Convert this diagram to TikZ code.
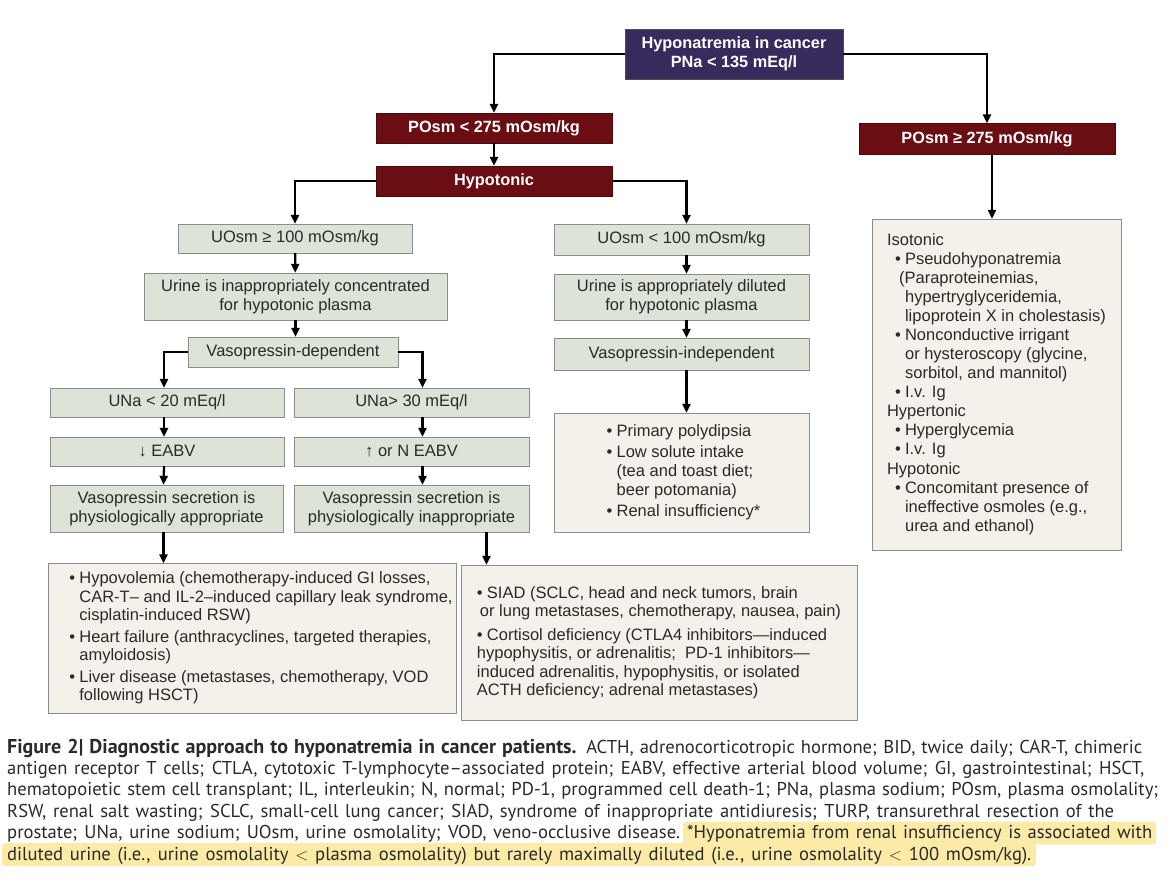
\documentclass[tikz,border=0pt]{standalone}
\usepackage{fontspec}
\usepackage{graphicx}
\setmainfont{Liberation Sans}
\newfontfamily\capfont{PT Sans}
\usetikzlibrary{arrows.meta}

\definecolor{hnapurple}{HTML}{372A5C}
\definecolor{posmred}{HTML}{6B0E14}
\definecolor{stepgreen}{HTML}{DEE3D8}
\definecolor{listbeige}{HTML}{F4F1EA}
\definecolor{boxline}{HTML}{8C8C8C}
\definecolor{hilite}{HTML}{FCEBA6}
\definecolor{txtgray}{HTML}{2A2A2A}

\newcommand{\bul}{\makebox[10pt][l]{\textbullet}}
\newcommand{\hng}{\hspace*{10pt}}
% stretch or squeeze one caption line to a given width
\newsavebox\caplinebox
\newcommand{\fitline}[2]{\sbox\caplinebox{#2}%
  \ifdim\wd\caplinebox>#1\relax\resizebox{#1}{\height}{\usebox\caplinebox}%
  \else\makebox[#1][s]{#2}\fi}

\tikzset{
  hnabox/.style={draw=black!70, fill=hnapurple, text=white, align=center, inner sep=0pt,
    font=\fontsize{16.3}{18.5}\selectfont\bfseries},
  posmbox/.style={draw=posmred!70!black, fill=posmred, text=white, align=center, inner sep=0pt,
    font=\fontsize{16.3}{18.5}\selectfont\bfseries},
  stepbox/.style={draw=boxline, fill=stepgreen, text=txtgray, align=center, inner sep=0pt,
    font=\fontsize{16.5}{19}\selectfont},
  listbox/.style={draw=boxline, fill=listbeige, text=txtgray, align=left, inner sep=0pt,
    font=\fontsize{16.5}{19}\selectfont},
  arr/.style={line width=2.3pt, -{Triangle[length=9pt,width=8pt]}},
  capline/.style={anchor=base west, inner sep=0pt, font=\capfont\fontsize{18.6}{21}\selectfont, text=txtgray},
  hiline/.style={capline, fill=hilite, rounded corners=3pt, inner xsep=4pt, text height=15pt, text depth=4pt, inner ysep=2pt}
}

\begin{document}
\begin{tikzpicture}[x=1pt,y=-1pt]
\useasboundingbox (0,0) rectangle (1173,879);

%top of the tree
\node[hnabox, minimum width=218pt, minimum height=50pt] (hna) at (734,54) {Hyponatremia in cancer\\PNa < 135 mEq/l};
\node[posmbox, minimum width=236pt, minimum height=30pt] (plo) at (494,128) {POsm < 275 mOsm/kg};
\node[posmbox, minimum width=256pt, minimum height=31pt] (phi) at (987,139) {POsm ≥ 275 mOsm/kg};
\node[posmbox, minimum width=236pt, minimum height=30pt] (hypo) at (494,181) {Hypotonic};
\draw[arr] (hna.west) -| (plo.north);
\draw[arr] (hna.east) -| (phi.north);
\draw[arr] (plo) -- (hypo);

%left branch, vasopressin-dependent
\node[stepbox, minimum width=234pt, minimum height=29pt] (uge) at (295,238.5) {UOsm ≥ 100 mOsm/kg};
\node[stepbox, minimum width=303pt, minimum height=47pt] (uic) at (295.5,296.5) {Urine is inappropriately concentrated\\for hypotonic plasma};
\node[stepbox, minimum width=210pt, minimum height=30pt] (vdep) at (293,352) {Vasopressin-dependent};
\node[stepbox, minimum width=234pt, minimum height=29pt] (una1) at (167,402.5) {UNa < 20 mEq/l};
\node[stepbox, minimum width=235pt, minimum height=29pt] (una2) at (411.5,402.5) {UNa> 30 mEq/l};
\node[stepbox, minimum width=234pt, minimum height=29pt] (eabv1) at (167,451.5) {↓ EABV};
\node[stepbox, minimum width=235pt, minimum height=29pt] (eabv2) at (411.5,451.5) {↑ or N EABV};
\node[stepbox, minimum width=233pt, minimum height=47pt] (sec1) at (166.5,508.5) {Vasopressin secretion is\\physiologically appropriate};
\node[stepbox, minimum width=235pt, minimum height=47pt] (sec2) at (411.5,508.5) {Vasopressin secretion is\\physiologically inappropriate};
\draw[arr] (hypo.west) -| (uge.north);
\draw[arr] (uge) -- (uic);
\draw[arr] (uic.south) -- (uic.south |- vdep.north);
\draw[arr] (vdep.west) -| ([xshift=-3pt]una1.north);
\draw[arr] (vdep.east) -| ([xshift=11pt]una2.north);
\draw[arr] ([xshift=-3pt]una1.south) -- ([xshift=-3pt]eabv1.north);
\draw[arr] ([xshift=11pt]una2.south) -- ([xshift=11pt]eabv2.north);
\draw[arr] ([xshift=-3pt]eabv1.south) -- ([xshift=-3pt]sec1.north);
\draw[arr] ([xshift=11pt]eabv2.south) -- ([xshift=11pt]sec2.north);

%causes
\node[listbox, minimum width=408pt, minimum height=150pt, font=\fontsize{16.5}{18.5}\selectfont] (causes1) at (252,638.5) {%
\begin{tabular}{@{\hspace*{18pt}}l@{}}
\bul Hypovolemia (chemotherapy-induced GI losses,\\
\hng CAR-T– and IL-2–induced capillary leak syndrome,\\
\hng cisplatin-induced RSW)\\[3pt]
\bul Heart failure (anthracyclines, targeted therapies,\\
\hng amyloidosis)\\[3pt]
\bul Liver disease (metastases, chemotherapy, VOD\\
\hng following HSCT)
\end{tabular}};
\node[listbox, minimum width=396pt, minimum height=155pt, font=\fontsize{16.5}{18.5}\selectfont] (causes2) at (659,642.5) {%
\bul SIAD (SCLC, head and neck tumors, brain\\
\hspace*{3pt}or lung metastases, chemotherapy, nausea, pain)\\[5pt]
\bul Cortisol deficiency (CTLA4 inhibitors—induced\\
hypophysitis, or adrenalitis;\ \ PD-1 inhibitors—\\
induced adrenalitis, hypophysitis, or isolated\\
ACTH deficiency; adrenal metastases)};
\draw[arr] ([xshift=-3pt]sec1.south) -- ([xshift=-3pt]sec1.south |- causes1.north);
\draw[arr] ([xshift=75pt]sec2.south) -- ([xshift=75pt]sec2.south |- causes2.north);

%middle branch, vasopressin-independent
\node[stepbox, minimum width=255pt, minimum height=31pt] (ult) at (681.5,239.5) {UOsm < 100 mOsm/kg};
\node[stepbox, minimum width=255pt, minimum height=46pt] (uad) at (681.5,297) {Urine is appropriately diluted\\for hypotonic plasma};
\node[stepbox, minimum width=255pt, minimum height=32pt] (vind) at (681.5,354) {Vasopressin-independent};
\node[listbox, minimum width=255pt, minimum height=119pt] (mlist) at (681.5,472.5) {%
\begin{tabular}{@{\hspace*{4pt}}l@{}}
\bul Primary polydipsia\\[2pt]
\bul Low solute intake\\
\hng(tea and toast diet;\\
\hng beer potomania)\\[2pt]
\bul Renal insufficiency*
\end{tabular}};
\draw[arr] (hypo.east) -| ([xshift=5pt]ult.north);
\draw[arr] ([xshift=5pt]ult.south) -- ([xshift=5pt]uad.north);
\draw[arr] ([xshift=5pt]uad.south) -- ([xshift=5pt]vind.north);
\draw[arr] ([xshift=5pt]vind.south) -- ([xshift=5pt]mlist.north);

%right branch
\node[listbox, minimum width=249pt, minimum height=331pt] (rlist) at (996.5,384.5) {%
Isotonic\\
\hspace*{8pt}\bul Pseudohyponatremia\\
\hspace*{8pt}\hspace*{4pt}(Paraproteinemias,\\
\hspace*{8pt}\hng hypertryglyceridemia,\\
\hspace*{8pt}\hng lipoprotein X in cholestasis)\\
\hspace*{8pt}\bul Nonconductive irrigant\\
\hspace*{8pt}\hng or hysteroscopy (glycine,\\
\hspace*{8pt}\hng sorbitol, and mannitol)\\
\hspace*{8pt}\bul I.v. Ig\\
Hypertonic\\
\hspace*{8pt}\bul Hyperglycemia\\
\hspace*{8pt}\bul I.v. Ig\\[1pt]
Hypotonic\\
\hspace*{8pt}\bul Concomitant presence of\\
\hspace*{8pt}\hng ineffective osmoles (e.g.,\\
\hspace*{8pt}\hng urea and ethanol)};
\draw[arr] ([xshift=5pt]phi.south) -- ([xshift=5pt]phi.south |- rlist.north);

%caption
\node[capline] (cap1) at (7,753) {\fitline{1135pt}{{\fontsize{20}{21}\selectfont\bfseries Figure 2| Diagnostic approach to hyponatremia in cancer patients.} ACTH, adrenocorticotropic hormone; BID, twice daily; CAR-T, chimeric}};
\node[capline] (cap2) at (7,774.4) {\fitline{1137pt}{antigen receptor T cells; CTLA, cytotoxic T-lymphocyte–associated protein; EABV, effective arterial blood volume; GI, gastrointestinal; HSCT,}};
\node[capline] (cap3) at (7,795.8) {\fitline{1151pt}{hematopoietic stem cell transplant; IL, interleukin; N, normal; PD-1, programmed cell death-1; PNa, plasma sodium; POsm, plasma osmolality;}};
\node[capline] (cap4) at (7,817.2) {\fitline{1107pt}{RSW, renal salt wasting; SCLC, small-cell lung cancer; SIAD, syndrome of inappropriate antidiuresis; TURP, transurethral resection of the}};
\node[capline] (cap5) at (7,838.6) {\fitline{673pt}{prostate; UNa, urine sodium; UOsm, urine osmolality; VOD, veno-occlusive disease.}};
\node[hiline] (cap5h) at (683,838.6) {\fitline{465pt}{*Hyponatremia from renal insufficiency is associated with}};
\node[hiline, inner xsep=5pt] (cap6) at (2,860) {\fitline{1024pt}{diluted urine (i.e., urine osmolality $<$ plasma osmolality) but rarely maximally diluted (i.e., urine osmolality $<$ 100 mOsm/kg).}};
\end{tikzpicture}
\end{document}
